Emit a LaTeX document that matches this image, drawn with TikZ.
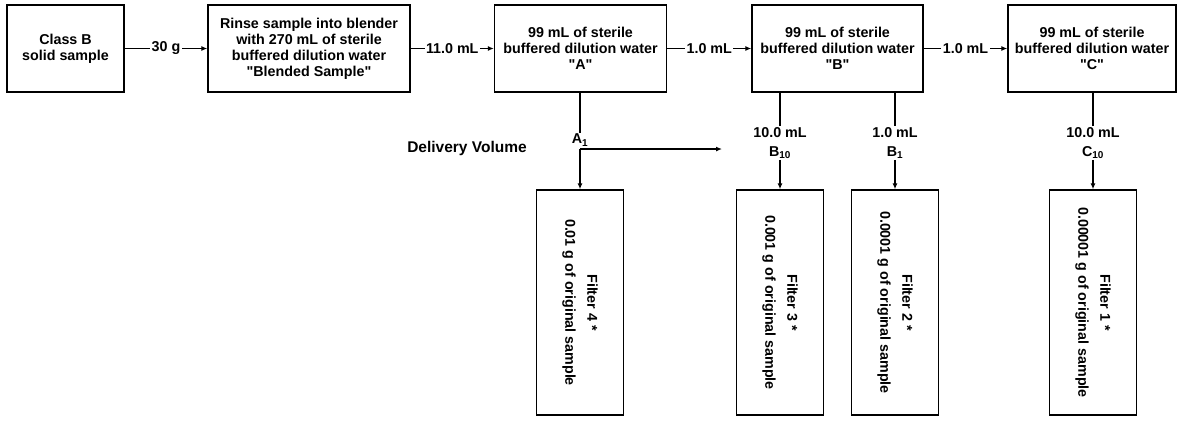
\documentclass[tikz,border=0pt]{standalone}
\usepackage{fontspec}
\setmainfont{Liberation Sans}
\usetikzlibrary{arrows.meta}
\begin{document}
\begin{tikzpicture}[x=1pt,y=-1pt,
  font=\fontsize{14.3}{16}\selectfont\bfseries,
  box/.style={draw,line width=1.4pt,align=center,inner sep=0pt,minimum height=87pt},
  filt/.style={draw,line width=1.4pt,inner sep=0pt,minimum width=87pt,minimum height=225pt},
  ftext/.style={rotate=-90,align=center,font=\fontsize{14.3}{22}\selectfont\bfseries},
  conn/.style={line width=1.2pt},
  arr/.style={line width=1.2pt,-{Latex[length=6pt,width=5pt]}},
  lbl/.style={fill=white,inner sep=1.5pt},
  vlbl/.style={align=center,inner sep=1pt,font=\fontsize{14.3}{19}\selectfont\bfseries}]
\useasboundingbox (0,0) rectangle (1177,421);
% top row
\node[box,minimum width=117pt] (S) at (65.5,48.5) {Class B\\solid sample};
\node[box,minimum width=202pt] (R) at (309,48.5) {Rinse sample into blender\\with 270 mL of sterile\\buffered dilution water\\\textquotedbl Blended Sample\textquotedbl};
\node[box,minimum width=172pt] (A) at (580.5,48.5) {99 mL of sterile\\buffered dilution water\\\textquotedbl A\textquotedbl};
\node[box,minimum width=171pt] (B) at (837.5,48.5) {99 mL of sterile\\buffered dilution water\\\textquotedbl B\textquotedbl};
\node[box,minimum width=168pt] (C) at (1092,48.5) {99 mL of sterile\\buffered dilution water\\\textquotedbl C\textquotedbl};
\draw[arr] (S.east) -- node[lbl]{30 g} (R.west);
\draw[arr] (R.east) -- node[lbl]{11.0 mL} (A.west);
\draw[arr] (A.east) -- node[lbl]{1.0 mL} (B.west);
\draw[arr] (B.east) -- node[lbl]{1.0 mL} (C.west);
% filters
\node[filt] (F4) at (580,302.5) {};
\node[filt] (F3) at (780,302.5) {};
\node[filt] (F2) at (895,302.5) {};
\node[filt] (F1) at (1093,302.5) {};
\node[ftext] at (F4.center) {Filter 4 *\\0.01 g of original sample};
\node[ftext] at (F3.center) {Filter 3 *\\0.001 g of original sample};
\node[ftext] at (F2.center) {Filter 2 *\\0.0001 g of original sample};
\node[ftext] at (F1.center) {Filter 1 *\\0.00001 g of original sample};
% delivery volumes
\node[font=\fontsize{15.5}{18}\selectfont\bfseries] (DV) at (467,148) {Delivery Volume};
\node[vlbl] (A1) at (580,140) {A\textsubscript{1}};
\node[vlbl] (B10) at (780,143) {10.0 mL\\B\textsubscript{10}};
\node[vlbl] (B1) at (895,143) {1.0 mL\\B\textsubscript{1}};
\node[vlbl] (C10) at (1093,143) {10.0 mL\\C\textsubscript{10}};
\coordinate (A1s) at (580,149);
\coordinate (DVend) at (722,149);
\draw[conn] (A1.north |- A.south) -- (A1.north);
\draw[arr] (A1s) -- (F4.north);
\draw[arr] (A1s) -- (DVend);
\draw[conn] (B10.north |- B.south) -- (B10.north);
\draw[arr] (B10.south) -- (F3.north);
\draw[conn] (B1.north |- B.south) -- (B1.north);
\draw[arr] (B1.south) -- (F2.north);
\draw[conn] (C10.north |- C.south) -- (C10.north);
\draw[arr] (C10.south) -- (F1.north);
\end{tikzpicture}
\end{document}
